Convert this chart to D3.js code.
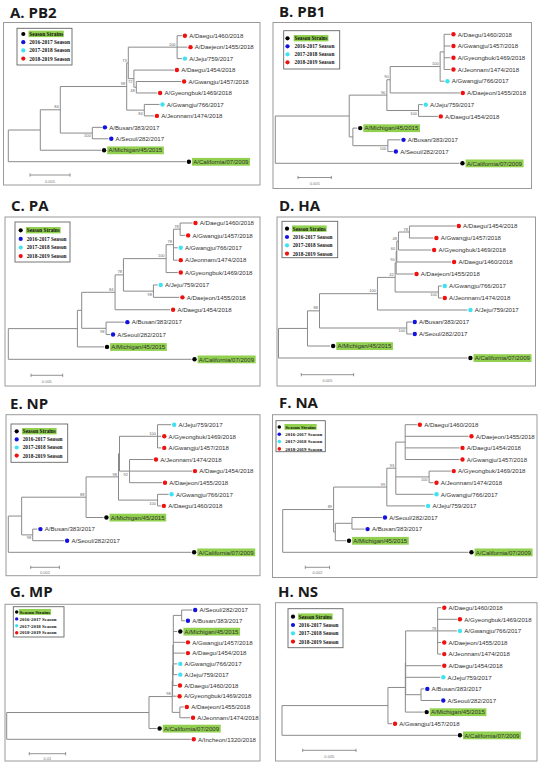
<!DOCTYPE html>
<html><head><meta charset="utf-8">
<script src="https://cdn.jsdelivr.net/npm/d3@7"></script>
<style>body{margin:0;background:#fff}</style>
</head><body>
<svg id="c" width="545" height="768" xmlns="http://www.w3.org/2000/svg"></svg>
<script>
// ---------- DATA ----------
const seasonNames = ["Season Strains", "2016-2017 Season", "2017-2018 Season", "2018-2019 Season"];
const seasonColors = ["#000000", "#1212dd", "#3fe2f2", "#ee1111"];
const seasonStrains = ["A/Michigan/45/2015", "A/California/07/2009"];
const season1617 = ["A/Busan/383/2017", "A/Seoul/282/2017"];
const season1718 = ["A/Jeju/759/2017", "A/Gwangju/766/2017"];

const panelTitles = ["A. PB2", "B. PB1", "C. PA", "D. HA", "E. NP", "F. NA", "G. MP", "H. NS"];
const scaleValues = [0.005, 0.005, 0.005, 0.005, 0.002, 0.002, 0.01, 0.005];
const scaleLabels = ["0.005", "0.005", "0.005", "0.005", "0.002", "0.002", "0.01", "0.005"];

// Newick trees: branch lengths (substitutions/site), internal labels = bootstrap values
const treePB2 = "((((((A/Daegu/1460/2018:0.0006,A/Daejeon/1455/2018:0.0013,A/Jeju/759/2017:0.0006)100:0.0061,(A/Daegu/1454/2018:0.0050,(A/Gwangju/1457/2018:0.0056,A/Gyeongbuk/1469/2018:0.0026)48:0.0003)72:0.0007)73:0.0002,(A/Gwangju/766/2017:0.0019,A/Jeonnam/1474/2018:0.0012)84:0.0022)98:0.0083,(A/Busan/383/2017:0.0012,A/Seoul/282/2017:0.0020)100:0.0040)84:0.0025,A/Michigan/45/2015:0.0076):0.0040,A/California/07/2009:0.0222);";
const treePB1 = "((((((A/Daegu/1460/2018:0.00095,A/Gwangju/1457/2018:0.00095,A/Gyeongbuk/1469/2018:0.00095,A/Jeonnam/1474/2018:0.00095):0.0006,A/Gwangju/766/2017:0.00065)100:0.0075,A/Daejeon/1455/2018:0.01045)90:0.0005,(A/Jeju/759/2017:0.00065,A/Daegu/1454/2018:0.0029)100:0.00475)90:0.00565,(A/Michigan/45/2015:0.00065,(A/Busan/383/2017:0.0019,A/Seoul/282/2017:0.00075)100:0.00525):0.00055):0.0111,A/California/07/2009:0.02765);";
const treePA = "((((((((A/Daegu/1460/2018:0.00195,A/Gwangju/1457/2018:0.00079)78:0.00105,A/Gwangju/766/2017:0.00068,A/Jeonnam/1474/2018:0.00068)78:0.00116,A/Gyeongbuk/1469/2018:0.00184)100:0.00673,(A/Jeju/759/2017:0.00068,A/Daejeon/1455/2018:0.0041)98:0.00473)78:0.00132,A/Daegu/1454/2018:0.00868)84:0.00526,(A/Busan/383/2017:0.00289,A/Seoul/282/2017:0.00063)98:0.00384):0.00068,A/Michigan/45/2015:0.0042):0.0109,A/California/07/2009:0.0289);";
const treeHA = "(((((((((A/Daegu/1454/2018:0.00443,A/Gwangju/1457/2018:0.00229)78:0.00105,A/Gyeongbuk/1469/2018:0.00312)48:0.00016,A/Daegu/1460/2018:0.00519)60:0.00006,A/Daejeon/1455/2018:0.00166)90:0.0001,(A/Gwangju/766/2017:0.00032,A/Jeonnam/1474/2018:0.00032)100:0.00414)42:0.00169,A/Jeju/759/2017:0.0086)100:0.00554,(A/Busan/383/2017:0.00048,A/Seoul/282/2017:0.00048)100:0.00834)88:0.00115,A/Michigan/45/2015:0.00217):0.00277,A/California/07/2009:0.01806);";
const treeNP = "((((((A/Jeju/759/2017:0.00095,A/Gyeongbuk/1469/2018:0.00026,A/Gwangju/1457/2018:0.00026)100:0.00265,(A/Jeonnam/1474/2018:0.00163,A/Daegu/1454/2018:0.00435,A/Daejeon/1455/2018:0.00226)92:0.0007):0.00007,(A/Gwangju/766/2017:0.00077,A/Daegu/1460/2018:0.00023)100:0.00272)98:0.00226,A/Michigan/45/2015:0.00121)88:0.00449,(A/Busan/383/2017:0.00033,A/Seoul/282/2017:0.00219)98:0.00077):0.00093,A/California/07/2009:0.01274);";
const treeNA = "(((((A/Daegu/1460/2018:0.00096,A/Daejeon/1455/2018:0.00521,A/Daegu/1454/2018:0.00447,A/Gwangju/1457/2018:0.00447):0.00077,(A/Gyeongbuk/1469/2018:0.00178,A/Jeonnam/1474/2018:0.00036)100:0.00274,A/Gwangju/766/2017:0.0031)93:0.00074,A/Jeju/759/2017:0.00315)99:0.00438,((A/Seoul/282/2017:0.00247,A/Busan/383/2017:0.00104):0.00137,A/Michigan/45/2015:0.00088):0.00014)89:0.00419,A/California/07/2009:0.01529);";
const treeMP = "(((((((A/Seoul/282/2017:0.0029,A/Busan/383/2017:0.0009):0.0023,A/Michigan/45/2015:0.0011,A/Gwangju/1457/2018:0.0032,A/Daegu/1454/2018:0.0032,A/Gwangju/766/2017:0.0011,A/Jeju/759/2017:0.0011):0.0001,A/Daegu/1460/2018:0.0011):0.0001,A/Gyeongbuk/1469/2018:0.0011):0.0001,(A/Daejeon/1455/2018:0.0011,A/Jeonnam/1474/2018:0.0028):0.0021)98:0.0064,A/California/07/2009:0.0021):0.0392,A/Incheon/1320/2018:0.0507);";
const treeNS = "(((((A/Daegu/1460/2018:0.00034,A/Gyeongbuk/1469/2018:0.00181,A/Gwangju/766/2017:0.00181,A/Daejeon/1455/2018:0.00034,A/Jeonnam/1474/2018:0.00034)78:0.003,A/Daegu/1454/2018:0.00334,A/Jeju/759/2017:0.00325,(A/Busan/383/2017:0.00031,A/Seoul/282/2017:0.00181):0.00144):0.00003,A/Michigan/45/2015:0.00172):0.00163,A/Gwangju/1457/2018:0.00038):0.00994,A/California/07/2009:0.01641);";
const trees = [treePB2, treePB1, treePA, treeHA, treeNP, treeNA, treeMP, treeNS];

// ---------- LAYOUT ----------
const layouts = [
  {box:[3.5,22.5,260,185], title:[10,18], rootX:8.3, leafY:[35.7,161.7], barPx:40, bar:[30,175,183],
   legend:{x:17,y:28.3,w:55,h:36.7,y0:34,step:8.2,dotX:23.3,textX:29.3,fs:5.4,r:2.1}},
  {box:[273,22.5,531.5,188.5], title:[279,16.7], rootX:275.3, leafY:[34.3,163.3], barPx:33.3, bar:[298,177.5,185],
   legend:{x:283.7,y:30.7,w:56,h:38.3,y0:38.3,step:8,dotX:287.5,textX:294.5,fs:5.3,r:2.1}},
  {box:[5,217,260,386], title:[11,211.3], rootX:8.3, leafY:[223,359.3], barPx:31.7, bar:[31,375.3,382.5],
   legend:{x:15,y:222,w:55,h:40,y0:230.3,step:8.6,dotX:20.7,textX:26.7,fs:5.3,r:2.1}},
  {box:[277,217,535.5,386], title:[279,211.3], rootX:278.5, leafY:[226,358], barPx:52.3, bar:[301.3,374.7,381.5],
   legend:{x:282,y:221.3,w:55.7,h:36.4,y0:228.7,step:8.3,dotX:287,textX:292.7,fs:5.3,r:2.1}},
  {box:[6,414.7,260,575.7], title:[10,409], rootX:8.3, leafY:[424.7,552.3], barPx:28.7, bar:[30.7,567.3,573.5],
   legend:{x:11,y:424,w:56.7,h:38.3,y0:431.3,step:8.1,dotX:16.7,textX:22.7,fs:5.3,r:2.1}},
  {box:[272.5,414.7,537,577.5], title:[279,408.3], rootX:282.7, leafY:[424.7,552.3], barPx:24.3, bar:[305.3,567.3,573.5],
   legend:{x:276,y:420.7,w:49.3,h:31,y0:427,step:7.3,dotX:279.3,textX:285.3,fs:4.9,r:1.8}},
  {box:[5,604.3,260,761], title:[10,596.7], rootX:6.7, leafY:[610,739.3], barPx:36.3, bar:[29.3,753.7,759.5],
   legend:{x:13.3,y:606.7,w:50.7,h:30.3,y0:612,step:6.9,dotX:16.7,textX:19.6,fs:4.9,r:1.7}},
  {box:[275.5,602.7,537,761], title:[278,596.7], rootX:282, leafY:[607.7,735.3], barPx:53.3, bar:[302.7,750.3,757.5],
   legend:{x:288,y:608.7,w:55,h:39,y0:616.7,step:8.3,dotX:293,textX:298.7,fs:5.3,r:2.1}}
];

const highlight = "#92d050";
const lineColor = "#8a8a8a";

function parseNewick(s) {
  let i = 0;
  function node() {
    const n = {children: []};
    if (s[i] === '(') {
      i++;
      n.children.push(node());
      while (s[i] === ',') { i++; n.children.push(node()); }
      i++; // ')'
    }
    let name = '';
    while (i < s.length && !':,();'.includes(s[i])) name += s[i++];
    n.name = name;
    n.length = 0;
    if (s[i] === ':') {
      i++;
      let num = '';
      while (i < s.length && !',();'.includes(s[i])) num += s[i++];
      n.length = +num;
    }
    return n;
  }
  return node();
}

function seasonOf(name) {
  if (seasonStrains.includes(name)) return 0;
  if (season1617.includes(name)) return 1;
  if (season1718.includes(name)) return 2;
  return 3;
}

const svg = d3.select("#c");
svg.append("rect").attr("width", 545).attr("height", 768).attr("fill", "#fff");

trees.forEach((nwk, pi) => {
  const L = layouts[pi];
  const g = svg.append("g");
  // frame
  g.append("rect")
    .attr("x", L.box[0]).attr("y", L.box[1])
    .attr("width", L.box[2] - L.box[0]).attr("height", L.box[3] - L.box[1])
    .attr("fill", "none").attr("stroke", "#9a9a9a").attr("stroke-width", 1);
  // title
  g.append("text").attr("x", L.title[0]).attr("y", L.title[1])
    .attr("font-family", "'Open Sans', sans-serif").attr("font-weight", 700)
    .attr("font-size", 15).attr("fill", "#1a1a1a").text(panelTitles[pi]);

  // tree
  const root = d3.hierarchy(parseNewick(nwk), d => d.children.length ? d.children : null);
  root.eachBefore(d => { d.dist = d.parent ? d.parent.dist + d.data.length : 0; });
  const x = d3.scaleLinear().domain([0, scaleValues[pi]]).range([L.rootX, L.rootX + L.barPx]);
  const leaves = root.leaves();
  const y = d3.scalePoint().domain(leaves.map(d => d.data.name)).range(L.leafY);
  root.eachAfter(d => {
    d.px = x(d.dist);
    if (d.children) d.py = (d.children[0].py + d.children[d.children.length - 1].py) / 2;
    else d.py = y(d.data.name);
  });

  const lines = g.append("g").attr("stroke", lineColor).attr("stroke-width", 1).attr("fill", "none");
  root.descendants().forEach(d => {
    if (d.children) {
      lines.append("line").attr("x1", d.px).attr("x2", d.px)
        .attr("y1", d.children[0].py).attr("y2", d.children[d.children.length - 1].py);
    }
    if (d.parent) {
      lines.append("line").attr("x1", d.parent.px).attr("x2", d.px)
        .attr("y1", d.py).attr("y2", d.py);
    }
  });

  // bootstrap labels
  root.descendants().filter(d => d.children && d.data.name && d.parent).forEach(d => {
    const above = d.py <= d.parent.py;
    g.append("text").attr("x", d.px - 1.5).attr("y", above ? d.py - 1.4 : d.py + 4.4)
      .attr("text-anchor", "end").attr("font-family", "'Liberation Sans', Arial, sans-serif")
      .attr("font-size", 4).attr("fill", "#666").text(d.data.name);
  });

  // leaves
  leaves.forEach(d => {
    const s = seasonOf(d.data.name);
    const tx = d.px + 7.3;
    const t = g.append("text").attr("x", tx).attr("y", d.py + 2.2)
      .attr("font-family", "'Liberation Sans', Arial, sans-serif")
      .attr("font-size", 6.1).attr("fill", "#333").text(d.data.name);
    if (s === 0) {
      const w = t.node().getComputedTextLength();
      g.insert("rect", () => t.node()).attr("x", tx - 1.2).attr("y", d.py - 3.8)
        .attr("width", w + 2.8).attr("height", 7.8).attr("fill", highlight);
    }
    g.append("circle").attr("cx", d.px + 3).attr("cy", d.py).attr("r", 2.2)
      .attr("fill", seasonColors[s]);
  });

  // scale bar
  const b = L.bar;
  const sb = g.append("g").attr("stroke", "#777").attr("stroke-width", 0.8);
  sb.append("line").attr("x1", b[0]).attr("x2", b[0] + L.barPx).attr("y1", b[1]).attr("y2", b[1]);
  sb.append("line").attr("x1", b[0]).attr("x2", b[0]).attr("y1", b[1] - 1.6).attr("y2", b[1] + 1.6);
  sb.append("line").attr("x1", b[0] + L.barPx).attr("x2", b[0] + L.barPx).attr("y1", b[1] - 1.6).attr("y2", b[1] + 1.6);
  g.append("text").attr("x", b[0] + L.barPx / 2).attr("y", b[2]).attr("text-anchor", "middle")
    .attr("font-family", "'Liberation Sans', Arial, sans-serif").attr("font-size", 4)
    .attr("fill", "#777").text(scaleLabels[pi]);

  // legend
  const lg = L.legend;
  g.append("rect").attr("x", lg.x).attr("y", lg.y).attr("width", lg.w).attr("height", lg.h)
    .attr("fill", "#fff").attr("stroke", "#666").attr("stroke-width", 0.9);
  seasonNames.forEach((nm, k) => {
    const yy = lg.y0 + k * lg.step;
    const t = g.append("text").attr("x", lg.textX).attr("y", yy + lg.fs * 0.36)
      .attr("font-family", "'Liberation Serif', 'Times New Roman', serif").attr("font-weight", 700)
      .attr("font-size", lg.fs).attr("fill", "#111").text(nm);
    if (k === 0) {
      const w = t.node().getComputedTextLength();
      g.insert("rect", () => t.node()).attr("x", lg.textX - 0.8).attr("y", yy - lg.fs * 0.62)
        .attr("width", w + 1.6).attr("height", lg.fs * 1.2).attr("fill", highlight);
    }
    g.append("circle").attr("cx", lg.dotX).attr("cy", yy).attr("r", lg.r).attr("fill", seasonColors[k]);
  });
});
</script>
</body></html>
